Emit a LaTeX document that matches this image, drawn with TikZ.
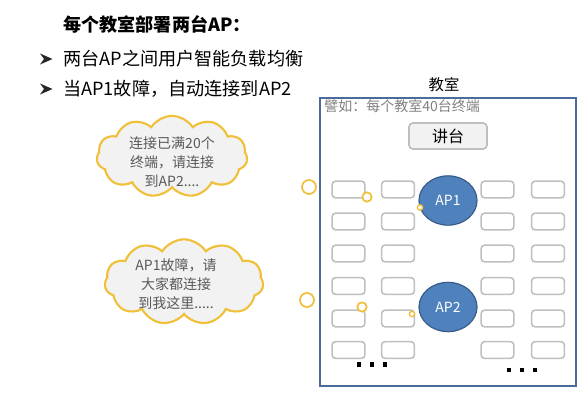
\documentclass[tikz,border=0pt]{standalone}
\usepackage{fontspec}
\setmainfont{Noto Sans CJK SC}
\usetikzlibrary{shapes.symbols,shapes.geometric}
\definecolor{roomblue}{HTML}{4A6C9B}
\definecolor{apfill}{HTML}{4F81BD}
\definecolor{apline}{HTML}{385D8A}
\definecolor{deskline}{HTML}{BFBFBF}
\definecolor{gold}{HTML}{F0C03A}
\definecolor{cloudfill}{HTML}{F2F2F2}
\definecolor{txtgray}{HTML}{595959}
\tikzset{
  desk/.style={draw=deskline, line width=1.2pt, rounded corners=2.5pt, fill=white, minimum width=24.5pt, minimum height=12.5pt, inner sep=0pt},
  apnode/.style={ellipse, draw=apline, line width=0.9pt, fill=apfill, minimum width=43.5pt, minimum height=37pt, inner sep=0pt, text=white, font=\fontsize{10.5}{11}\selectfont},
  ring/.style={circle, draw=gold, line width=1.3pt, fill=white, inner sep=0pt},
  thought/.style={cloud, cloud puffs=11, cloud puff arc=115, aspect=1.9, draw=gold, line width=1.6pt, fill=cloudfill, inner sep=0pt},
  cloudtext/.style={align=center, text=txtgray, font=\fontsize{10.5}{14.2}\selectfont},
  bulletmark/.style={fill=black!85},
  headtext/.style={anchor=west, font=\fontsize{13.6}{15}\selectfont, inner sep=0pt},
  dot/.style={fill=black, minimum size=3.2pt, inner sep=0pt}
}
\begin{document}
\begin{tikzpicture}[x=0.75pt,y=-0.75pt]
\useasboundingbox (0,0) rectangle (586,400);
% header text
\node[headtext, font=\bfseries\fontsize{13.6}{15}\selectfont] (title) at (63,24) {每个教室部署两台AP：};
\fill[bulletmark] (40,53.5) -- (52.5,59) -- (40,64.5) -- (44,59) -- cycle;
\node[headtext] (t1) at (63,59) {两台AP之间用户智能负载均衡};
\fill[bulletmark] (40,83.5) -- (52.5,89) -- (40,94.5) -- (44,89) -- cycle;
\node[headtext] (t2) at (63,89) {当AP1故障，自动连接到AP2};
% classroom
\node[font=\fontsize{11.5}{13}\selectfont, inner sep=0pt] (roomlabel) at (444,85) {教室};
\draw[roomblue, line width=1.6pt] (320,98) rectangle (576,386);
\node[anchor=west, text=gray, font=\fontsize{10.5}{11}\selectfont, inner sep=0pt] (note) at (324,106) {譬如：每个教室40台终端};
\node[draw=deskline, line width=1.3pt, fill=cloudfill, rounded corners=3pt, minimum width=58.5pt, minimum height=19.5pt, inner sep=0pt, font=\fontsize{12}{13}\selectfont] (podium) at (448,136) {讲台};
% desks
\foreach \cx/\c in {348.5/1,398/2,497.5/3,548/4}{
  \foreach \cy/\r in {189.5/1,221.5/2,253.5/3,286/4,318.5/5,350/6}{
    \node[desk] (d\c\r) at (\cx,\cy) {};
  }
}
% APs
\node[apnode] (ap1) at (448,200.5) {AP1};
\node[apnode] (ap2) at (448,307) {AP2};
% rings
\node[ring, minimum size=10.5pt] (r1a) at (309,187) {};
\node[ring, minimum size=7pt] (r1b) at (367,197) {};
\node[ring, minimum size=4pt, line width=1pt] (r1c) at (420,207.5) {};
\node[ring, minimum size=10.5pt] (r2a) at (307,300) {};
\node[ring, minimum size=7pt] (r2b) at (362,307) {};
\node[ring, minimum size=4pt, line width=1pt] (r2c) at (412,314) {};
% dots
\node[dot] (ld1) at (359,364.5) {};
\node[dot] (ld2) at (372,364.5) {};
\node[dot] (ld3) at (385,364.5) {};
\node[dot] (rd1) at (509,370) {};
\node[dot] (rd2) at (522,370) {};
\node[dot] (rd3) at (535,370) {};
% clouds
\node[thought, minimum width=113pt, minimum height=61pt] (cloud1) at (172,156.5) {};
\node[cloudtext] (c1text) at (172,162) {连接已满20个\\终端，请连接\\到AP2....};
\node[thought, minimum width=119pt, minimum height=64pt] (cloud2) at (184,282) {};
\node[cloudtext] (c2text) at (176,284) {AP1故障，请\\大家都连接\\到我这里.....};
\end{tikzpicture}
\end{document}
